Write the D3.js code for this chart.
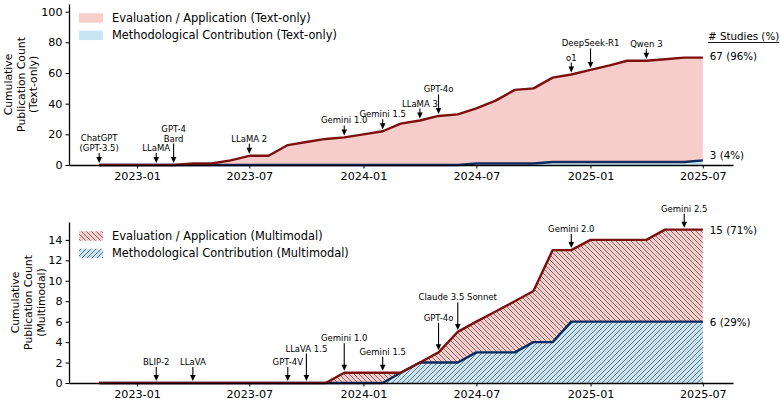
<!DOCTYPE html>
<html>
<head>
<meta charset="utf-8">
<script src="https://cdn.jsdelivr.net/npm/d3@7"></script>
<style>
  body { margin: 0; background: #fff; }
  svg { display: block; font-family: "DejaVu Sans", sans-serif; }
</style>
</head>
<body>
<svg id="chart" width="780" height="400"></svg>
<script>
// monthly cumulative counts
const months = ["2022-11","2022-12","2023-01","2023-02","2023-03","2023-04","2023-05","2023-06",
  "2023-07","2023-08","2023-09","2023-10","2023-11","2023-12","2024-01","2024-02","2024-03",
  "2024-04","2024-05","2024-06","2024-07","2024-08","2024-09","2024-10","2024-11","2024-12",
  "2025-01","2025-02","2025-03","2025-04","2025-05","2025-06","2025-07"];

// text-only panel (outline heights as drawn)
const textEval = [0,0,0,0,0,1,1,3,6,6,13,15,17,18,20,22,27,29,32,33,37,42,49,50,57,59,62,65,68,68,69,70,70];
const textMethod = [0,0,0,0,0,0,0,0,0,0,0,0,0,0,0,0,0,0,0,0,1,1,1,1,2,2,2,2,2,2,2,2,3];

// multimodal panel
const mmEval = [0,0,0,0,0,0,0,0,0,0,0,0,0,1,1,1,1,2,3,5,6,7,8,9,13,13,14,14,14,14,15,15,15];
const mmMethod = [0,0,0,0,0,0,0,0,0,0,0,0,0,0,0,0,1,2,2,2,3,3,3,4,4,6,6,6,6,6,6,6,6];

const xTickLabels = ["2023-01","2023-07","2024-01","2024-07","2025-01","2025-07"];
const textYTicks = [0, 20, 40, 60, 80, 100];
const mmYTicks = [0, 2, 4, 6, 8, 10, 12, 14];

const textLegend = ["Evaluation / Application (Text-only)", "Methodological Contribution (Text-only)"];
const mmLegend = ["Evaluation / Application (Multimodal)", "Methodological Contribution (Multimodal)"];
const textEndLabels = ["67 (96%)", "3 (4%)"];
const mmEndLabels = ["15 (71%)", "6 (29%)"];

const textMilestones = [
  ["ChatGPT\n(GPT-3.5)", "2022-11"], ["LLaMA", "2023-02"], ["GPT-4\nBard", "2023-03"],
  ["LLaMA 2", "2023-07"], ["Gemini 1.0", "2023-12"], ["Gemini 1.5", "2024-02"],
  ["LLaMA 3", "2024-04"], ["GPT-4o", "2024-05"], ["o1", "2024-12"],
  ["DeepSeek-R1", "2025-01"], ["Qwen 3", "2025-04"]
];
const mmMilestones = [
  ["BLIP-2", "2023-02"], ["LLaVA", "2023-04"], ["GPT-4V", "2023-09"], ["LLaVA 1.5", "2023-10"],
  ["Gemini 1.0", "2023-12"], ["Gemini 1.5", "2024-02"], ["GPT-4o", "2024-05"],
  ["Claude 3.5 Sonnet", "2024-06"], ["Gemini 2.0", "2024-12"], ["Gemini 2.5", "2025-06"]
];

const parseMonth = d3.timeParse("%Y-%m");
const dates = months.map(parseMonth);

const pink = "#f6cdca", lightBlue = "#c8e6f5";
const darkRed = "#7d0f0f", navy = "#0b2b5f";

const svg = d3.select("#chart");
const defs = svg.append("defs");

// hatch patterns, like matplotlib '\\\\' and '////'
function makeHatch(id, bg, back) {
  const p = defs.append("pattern")
    .attr("id", id)
    .attr("patternUnits", "userSpaceOnUse")
    .attr("width", 5).attr("height", 5);
  p.append("rect").attr("width", 5).attr("height", 5).attr("fill", bg);
  p.append("path")
    .attr("d", back ? "M0,0L5,5M-1,4L1,6M4,-1L6,1" : "M0,5L5,0M-1,1L1,-1M4,6L6,4")
    .attr("stroke", "#2a2a2a")
    .attr("stroke-width", 0.6);
}
makeHatch("hatchRed", pink, true);
makeHatch("hatchBlue", lightBlue, false);

// x range with matplotlib-ish 5% margins
const left = 69, right = 733;
const [d0, d1] = d3.extent(dates);
const pad = (d1 - d0) * 0.05;
const x = d3.scaleTime()
  .domain([new Date(+d0 - pad), new Date(+d1 + pad)])
  .range([left, right]);

function drawPanel(cfg) {
  const g = svg.append("g");
  const y = d3.scaleLinear().domain([0, cfg.yMax]).range([cfg.bottom, cfg.top]);

  const area = vals => d3.area()
    .x((d, i) => x(dates[i]))
    .y0(y(0))
    .y1(d => y(d))(vals);
  const line = vals => d3.line()
    .x((d, i) => x(dates[i]))
    .y(d => y(d))(vals);

  g.append("path").attr("d", area(cfg.upper)).attr("fill", cfg.fillUpper);
  g.append("path").attr("d", area(cfg.lower)).attr("fill", cfg.fillLower);
  g.append("path").attr("d", line(cfg.lower))
    .attr("fill", "none").attr("stroke", navy).attr("stroke-width", 2.4).attr("stroke-linejoin", "round");
  g.append("path").attr("d", line(cfg.upper))
    .attr("fill", "none").attr("stroke", darkRed).attr("stroke-width", 2.4).attr("stroke-linejoin", "round");

  // axes
  const yAxis = g.append("g")
    .attr("transform", `translate(${left},0)`)
    .call(d3.axisLeft(y).tickValues(cfg.yTicks).tickSizeInner(3.5).tickSizeOuter(0).tickPadding(3));
  const xAxis = g.append("g")
    .attr("transform", `translate(0,${cfg.bottom})`)
    .call(d3.axisBottom(x).tickValues(xTickLabels.map(parseMonth))
      .tickFormat(d3.timeFormat("%Y-%m")).tickSizeInner(3.5).tickSizeOuter(0).tickPadding(3.5));
  [yAxis, xAxis].forEach(a => {
    a.select(".domain").attr("stroke", "#000").attr("stroke-width", 1.3);
    a.selectAll(".tick line").attr("stroke", "#000");
    a.selectAll("text").attr("font-size", "11.2px").attr("fill", "#000")
      .attr("font-family", "DejaVu Sans");
  });

  // y label, three centred lines
  const cy = (cfg.top + cfg.bottom) / 2;
  cfg.yLabel.forEach((t, i) => {
    g.append("text")
      .attr("transform", `translate(${cfg.yLabelX[i]},${cy}) rotate(-90)`)
      .attr("text-anchor", "middle")
      .attr("dominant-baseline", "central")
      .attr("font-size", "10.8px")
      .text(t);
  });

  // legend, top-left inside the axes
  cfg.legend.forEach((t, i) => {
    const ly = cfg.top + 14 + i * 17.4;
    g.append("rect")
      .attr("x", 79).attr("y", ly - 4.7)
      .attr("width", 24).attr("height", 9.4)
      .attr("fill", i === 0 ? cfg.fillUpper : cfg.fillLower);
    g.append("text")
      .attr("x", 112).attr("y", ly)
      .attr("dominant-baseline", "central")
      .attr("font-size", "11.4px")
      .text(t);
  });

  // release annotations with arrows
  cfg.milestones.forEach(([name, m]) => {
    const idx = months.indexOf(m);
    const xi = x(dates[idx]);
    const ty = y(cfg.upper[idx]);
    const lift = cfg.raised.includes(name) ? cfg.liftLong : cfg.liftShort;
    const lines = name.split("\n");
    const last = ty - lift;
    lines.forEach((t, k) => {
      g.append("text")
        .attr("x", xi)
        .attr("y", last - (lines.length - 1 - k) * 10)
        .attr("text-anchor", "middle")
        .attr("dominant-baseline", "central")
        .attr("font-size", "8.5px")
        .text(t);
    });
    const tip = ty - 2;
    g.append("line")
      .attr("x1", xi).attr("x2", xi)
      .attr("y1", last + 5).attr("y2", tip - 5)
      .attr("stroke", "#000").attr("stroke-width", 1.1);
    g.append("path")
      .attr("d", `M${xi - 2.8},${tip - 6}L${xi + 2.8},${tip - 6}L${xi},${tip}Z`)
      .attr("fill", "#000");
  });

  // counts at the right end
  const lastIdx = months.length - 1;
  [cfg.upper, cfg.lower].forEach((vals, i) => {
    g.append("text")
      .attr("x", x(dates[lastIdx]) + 7)
      .attr("y", y(vals[lastIdx]) + cfg.endShift[i])
      .attr("dominant-baseline", "central")
      .attr("font-size", "10.3px")
      .text(cfg.endLabels[i]);
  });
  return g;
}

const topPanel = drawPanel({
  top: 4, bottom: 165, yMax: 105, yTicks: textYTicks,
  upper: textEval, lower: textMethod,
  fillUpper: pink, fillLower: lightBlue,
  yLabel: ["Cumulative", "Publication Count", "(Text-only)"], yLabelX: [8.5, 21, 33.5],
  legend: textLegend,
  milestones: textMilestones, raised: ["GPT-4\nBard", "GPT-4o", "DeepSeek-R1"],
  liftShort: 17, liftLong: 26.5,
  endLabels: textEndLabels, endShift: [-2, -5]
});

drawPanel({
  top: 222, bottom: 383, yMax: 15.75, yTicks: mmYTicks,
  upper: mmEval, lower: mmMethod,
  fillUpper: "url(#hatchRed)", fillLower: "url(#hatchBlue)",
  yLabel: ["Cumulative", "Publication Count", "(Multimodal)"], yLabelX: [15, 28, 41],
  legend: mmLegend,
  milestones: mmMilestones, raised: ["LLaVA 1.5", "Gemini 1.0", "GPT-4o", "Claude 3.5 Sonnet"],
  liftShort: 21, liftLong: 34.5,
  endLabels: mmEndLabels, endShift: [0, 0]
});

// header above the right-hand counts
const head = topPanel.append("text")
  .attr("x", 708).attr("y", 36)
  .attr("dominant-baseline", "central")
  .attr("font-size", "10.3px")
  .text("# Studies (%)");
const hw = head.node().getComputedTextLength();
topPanel.append("line")
  .attr("x1", 708).attr("x2", 708 + hw)
  .attr("y1", 42.5).attr("y2", 42.5)
  .attr("stroke", "#000").attr("stroke-width", 0.9);
</script>
</body>
</html>
